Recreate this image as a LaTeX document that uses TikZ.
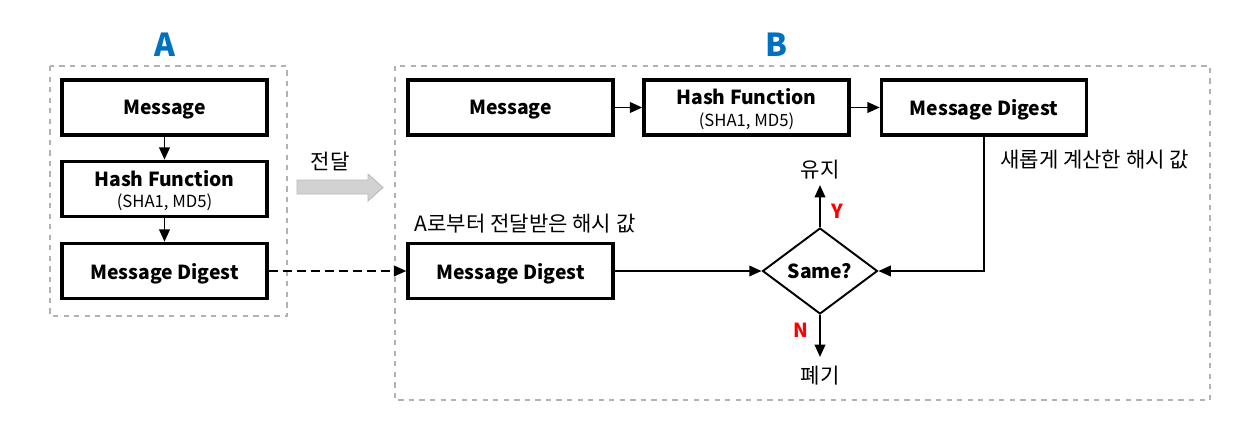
\documentclass[tikz,border=0pt]{standalone}
\usepackage{fontspec}
\setmainfont{Noto Sans CJK KR}
\usetikzlibrary{shapes.geometric,arrows.meta}

\definecolor{titleblue}{HTML}{0070C0}
\newcommand{\algtext}[1]{{\mdseries\fontsize{9.5}{11}\selectfont #1}}

\begin{document}
\begin{tikzpicture}[x=0.02cm, y=-0.02cm,
    every node/.style={font=\fontsize{12}{14}\selectfont, text=black},
    box/.style={draw, line width=2pt, minimum width=4.1cm, minimum height=1.1cm, text depth=0pt,
                font=\fontsize{11}{13}\selectfont\bfseries, align=center},
    frame/.style={draw=gray!60, dashed, line width=0.6pt},
    flow/.style={line width=1.1pt, -{Triangle[length=7pt,width=6pt]}},
    title/.style={font=\fontsize{18}{20}\selectfont\bfseries, text=titleblue},
    yn/.style={font=\fontsize{11}{13}\selectfont\bfseries, text=red},
    ]
  \useasboundingbox (0,0) rectangle (1245,426);

  % A side
  \node[title] (titleA) at (165,45) {A};
  \draw[frame] (50,66) rectangle (287,316);
  \node[box] (msgA) at (164.5,107.5) {Message};
  \node[box] (hashA) at (164.5,189) {Hash Function\\[-1pt]\algtext{(SHA1, MD5)}};
  \node[box] (digA) at (164.5,271) {Message Digest};
  \draw[flow] (msgA) -- (hashA);
  \draw[flow] (hashA) -- (digA);

  % transfer
  \node (send) at (330,161) {전달};
  \draw[draw=gray!55, fill=gray!35, line width=0.5pt]
    (297,180) -- (368,180) -- (368,174) -- (383,187.5) -- (368,201) -- (368,194) -- (297,194) -- cycle;

  % B side
  \node[title] (titleB) at (776,45) {B};
  \draw[frame] (395,66) rectangle (1210,400);
  \node[box] (msgB) at (510.5,107.5) {Message};
  \node[box] (hashB) at (746.5,107.5) {Hash Function\\[-1pt]\algtext{(SHA1, MD5)}};
  \node[box] (digB) at (984,107.5) {Message Digest};
  \node[box] (recv) at (510.5,271) {Message Digest};
  \node[anchor=south] (recvlabel) at (525,239) {A로부터 전달받은 해시 값};
  \node[anchor=west] (newlabel) at (994,160) {새롭게 계산한 해시 값};
  \node[diamond, draw, line width=1.1pt, minimum width=2.3cm, minimum height=1.72cm, inner sep=0pt,
        font=\fontsize{11}{13}\selectfont\bfseries] (same) at (820,271) {Same?};
  \node (keep) at (820,170) {유지};
  \node (drop) at (820,376) {폐기};
  \coordinate (keepend) at (820,185);
  \coordinate (dropend) at (820,357);
  \node[yn] (yes) at (837,211) {Y};
  \node[yn] (no) at (801,330) {N};

  \draw[flow] (msgB) -- (hashB);
  \draw[flow] (hashB) -- (digB);
  \draw[flow] (recv) -- (same);
  \draw[flow] (digB.south) |- (same.east);
  \draw[flow] (same.north) -- (keepend);
  \draw[flow] (same.south) -- (dropend);
  \draw[flow, dashed, dash pattern=on 5pt off 3pt] (digA) -- (recv);
\end{tikzpicture}
\end{document}
